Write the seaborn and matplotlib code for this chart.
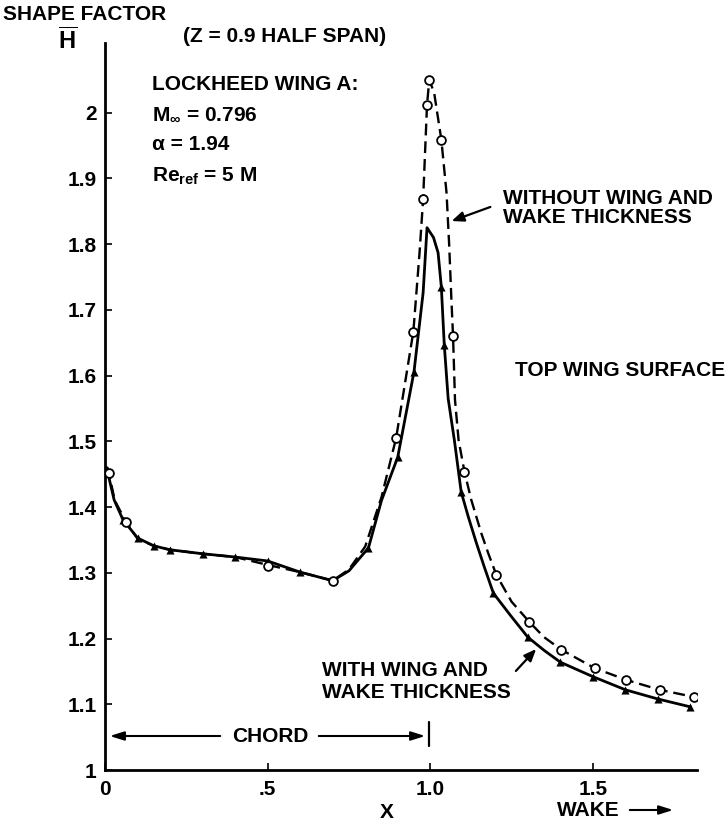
import matplotlib
matplotlib.use("Agg")
import matplotlib.pyplot as plt
import seaborn as sns

# ---------------- data ----------------
# solid curve: WITH wing and wake thickness
with_x = [0.006, 0.012, 0.028, 0.055, 0.1, 0.15, 0.2, 0.3, 0.4, 0.5, 0.6, 0.7, 0.75,
          0.81, 0.85, 0.9, 0.95, 0.978, 0.99, 1.01, 1.024, 1.034, 1.043, 1.055, 1.074,
          1.095, 1.117, 1.142, 1.166, 1.194, 1.25, 1.3, 1.35, 1.4, 1.5, 1.6, 1.7, 1.8]
with_h = [1.46, 1.445, 1.411, 1.381, 1.353, 1.341, 1.335, 1.329, 1.324, 1.318, 1.301,
          1.288, 1.303, 1.338, 1.41, 1.476, 1.606, 1.726, 1.825, 1.81, 1.787, 1.735,
          1.647, 1.565, 1.502, 1.423, 1.385, 1.345, 1.309, 1.269, 1.233, 1.202, 1.182,
          1.164, 1.142, 1.122, 1.108, 1.096]
with_mx = [0.055, 0.1, 0.15, 0.2, 0.3, 0.4, 0.5, 0.6, 0.81, 0.9, 0.95, 1.034, 1.043,
           1.095, 1.194, 1.3, 1.4, 1.5, 1.6, 1.7, 1.8]
with_mh = [1.381, 1.353, 1.341, 1.335, 1.329, 1.324, 1.318, 1.301, 1.338, 1.476, 1.606,
           1.735, 1.647, 1.423, 1.269, 1.202, 1.164, 1.142, 1.122, 1.108, 1.096]

# dashed curve: WITHOUT wing and wake thickness
wo_x = [0.008, 0.012, 0.03, 0.065, 0.1, 0.15, 0.2, 0.3, 0.4, 0.5, 0.6, 0.7, 0.75, 0.8,
        0.85, 0.895, 0.948, 0.967, 0.978, 0.99, 0.997, 1.012, 1.034, 1.05, 1.058, 1.065,
        1.07, 1.076, 1.087, 1.105, 1.126, 1.157, 1.178, 1.203, 1.25, 1.305, 1.35, 1.403,
        1.505, 1.603, 1.705, 1.812]
wo_h = [1.46, 1.452, 1.41, 1.377, 1.352, 1.341, 1.335, 1.329, 1.324, 1.312, 1.301, 1.288,
        1.305, 1.34, 1.415, 1.505, 1.667, 1.787, 1.868, 2.012, 2.05, 2.03, 1.959, 1.878,
        1.80, 1.715, 1.66, 1.563, 1.502, 1.454, 1.411, 1.36, 1.33, 1.297, 1.256, 1.225,
        1.202, 1.183, 1.155, 1.137, 1.122, 1.111]
wo_mx = [0.012, 0.065, 0.5, 0.7, 0.895, 0.948, 0.978, 0.99, 0.997, 1.034, 1.07, 1.105,
         1.203, 1.305, 1.403, 1.505, 1.603, 1.705, 1.812]
wo_mh = [1.452, 1.377, 1.31, 1.288, 1.505, 1.667, 1.868, 2.012, 2.05, 1.959, 1.66, 1.454,
         1.297, 1.225, 1.183, 1.155, 1.137, 1.122, 1.111]

x_ticks = [0, 0.5, 1.0, 1.5]
x_tick_labels = ["0", ".5", "1.0", "1.5"]
y_ticks = [1.0, 1.1, 1.2, 1.3, 1.4, 1.5, 1.6, 1.7, 1.8, 1.9, 2.0]
y_tick_labels = ["1", "1.1", "1.2", "1.3", "1.4", "1.5", "1.6", "1.7", "1.8", "1.9", "2"]

# ---------------- style ----------------
sns.set_theme(style="ticks")
plt.rcParams["font.family"] = ["Liberation Sans", "DejaVu Sans"]
plt.rcParams["font.weight"] = "bold"
plt.rcParams["mathtext.fontset"] = "custom"
plt.rcParams["mathtext.rm"] = "Liberation Sans:bold"
plt.rcParams["mathtext.bf"] = "Liberation Sans:bold"
plt.rcParams["mathtext.it"] = "Liberation Sans:bold"

W, H = 725, 825
fig = plt.figure(figsize=(W / 100, H / 100), dpi=100)
fig.patch.set_facecolor("white")
ax = fig.add_axes([105 / W, 55 / H, 592 / W, 727 / H])
ax.set_facecolor("white")

FS = 15


def P(px, py):
    return (px / W, 1 - py / H)


# lines
sns.lineplot(x=with_x, y=with_h, ax=ax, color="black", linewidth=2.0,
             sort=False, estimator=None, zorder=3)
sns.lineplot(x=wo_x, y=wo_h, ax=ax, color="black", linewidth=1.7,
             sort=False, estimator=None, zorder=3)
ax.lines[-1].set_dashes([5, 2.5])

# markers
sns.scatterplot(x=with_mx, y=with_mh, ax=ax, marker="^", color="black",
                s=34, linewidth=0, zorder=4)
sns.scatterplot(x=wo_mx, y=wo_mh, ax=ax, marker="o", color="white",
                edgecolor="black", s=40, linewidth=1.3, zorder=5)

ax.set_xlim(0, 1.82)
ax.set_ylim(1.0, 2.106)
ax.set_xticks(x_ticks)
ax.set_xticklabels(x_tick_labels)
ax.set_yticks(y_ticks)
ax.set_yticklabels(y_tick_labels)
ax.tick_params(axis="both", direction="in", length=5, width=1.2, labelsize=FS,
               colors="black")
ax.tick_params(axis="x", pad=7)
ax.tick_params(axis="y", pad=6)
for lab in ax.get_xticklabels() + ax.get_yticklabels():
    lab.set_fontweight("bold")
sns.despine(ax=ax)
for s in ["left", "bottom"]:
    ax.spines[s].set_linewidth(2.0)
    ax.spines[s].set_color("black")
ax.set_xlabel("")
ax.set_ylabel("")
ax.grid(False)

# ---------------- texts ----------------
kw = dict(fontsize=FS, fontweight="bold", color="black")
fig.text(*P(3, 15), "SHAPE FACTOR", ha="left", va="center", **kw)
fig.text(*P(68, 41), r"$\overline{\mathbf{H}}$", ha="center", va="center",
         fontsize=17, fontweight="bold", color="black")
fig.text(*P(183, 37), "(Z = 0.9 HALF SPAN)", ha="left", va="center", **kw)
fig.text(*P(152, 85), "LOCKHEED WING A:", ha="left", va="center", **kw)
fig.text(*P(152, 114), r"M$_{\infty}$ = 0.796", ha="left", va="center", **kw)
fig.text(*P(152, 145), "\u03b1 = 1.94", ha="left", va="center", **kw)
fig.text(*P(152, 176), r"Re$_{\mathbf{ref}}$ = 5 M", ha="left", va="center", **kw)

fig.text(*P(503, 199), "WITHOUT WING AND", ha="left", va="center", **kw)
fig.text(*P(503, 218), "WAKE THICKNESS", ha="left", va="center", **kw)
ax.annotate("", xy=P(449, 222), xytext=P(493, 206), xycoords="figure fraction",
            textcoords="figure fraction",
            arrowprops=dict(arrowstyle="-|>,head_length=0.6,head_width=0.25",
                            color="black", lw=1.6))

fig.text(*P(515, 370), "TOP WING SURFACE", ha="left", va="center", **kw)

fig.text(*P(322, 670), "WITH WING AND", ha="left", va="center", **kw)
fig.text(*P(322, 693), "WAKE THICKNESS", ha="left", va="center", **kw)
ax.annotate("", xy=P(538, 647), xytext=P(514, 673), xycoords="figure fraction",
            textcoords="figure fraction",
            arrowprops=dict(arrowstyle="-|>,head_length=0.6,head_width=0.25",
                            color="black", lw=1.6))

# chord marker
fig.text(*P(270, 737), "CHORD", ha="center", va="center", **kw)
ax.annotate("", xy=P(107, 736), xytext=P(223, 736), xycoords="figure fraction",
            textcoords="figure fraction",
            arrowprops=dict(arrowstyle="-|>,head_length=0.7,head_width=0.22",
                            color="black", lw=1.5))
ax.annotate("", xy=P(428, 736), xytext=P(316, 736), xycoords="figure fraction",
            textcoords="figure fraction",
            arrowprops=dict(arrowstyle="-|>,head_length=0.7,head_width=0.22",
                            color="black", lw=1.5))
fig.add_artist(plt.Line2D([429 / W, 429 / W], [1 - 722 / H, 1 - 746 / H],
                          color="black", lw=1.6))

# x axis labels
fig.text(*P(387, 813), "X", ha="center", va="center", **kw)
fig.text(*P(557, 810), "WAKE", ha="left", va="center", **kw)
ax.annotate("", xy=P(676, 810), xytext=P(627, 810), xycoords="figure fraction",
            textcoords="figure fraction",
            arrowprops=dict(arrowstyle="-|>,head_length=0.7,head_width=0.22",
                            color="black", lw=1.5))

fig.savefig("out.png", dpi=100, facecolor="white")
